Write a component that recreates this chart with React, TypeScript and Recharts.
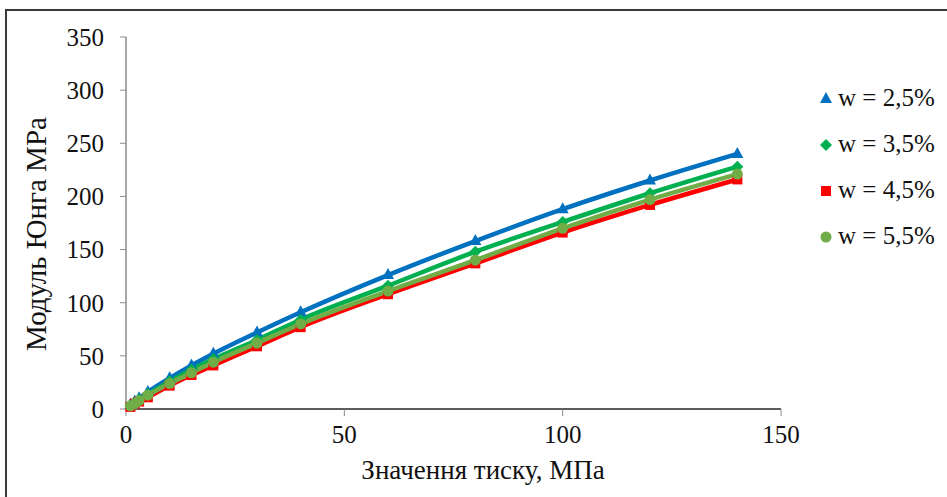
import React from 'react';
import { LineChart, Line, XAxis, YAxis } from 'recharts';

// pressure, MPa
const pressure = [1, 2, 3, 5, 10, 15, 20, 30, 40, 60, 80, 100, 120, 140];

// Young's modulus, MPa, per moisture content
const w25 = [4, 7, 10, 16, 29, 41, 52, 72, 91, 126, 158, 188, 215, 240];
const w35 = [3, 6, 9, 14, 26, 37, 47, 65, 84, 116, 148, 176, 203, 228];
const w45 = [2, 5, 7, 11, 22, 32, 41, 59, 77, 108, 137, 166, 192, 216];
const w55 = [3, 5, 8, 13, 24, 34, 44, 62, 80, 111, 140, 170, 197, 221];

const xTicks = [0, 50, 100, 150];
const yTicks = [0, 50, 100, 150, 200, 250, 300, 350];

const seriesNames = ['w = 2,5%', 'w = 3,5%', 'w = 4,5%', 'w = 5,5%'];

const data = pressure.map((x, i) => ({ x, a: w25[i], b: w35[i], c: w45[i], d: w55[i] }));

const FONT = '"Liberation Serif", "Times New Roman", serif';
const BLUE = '#0070C0';
const GREEN = '#00B050';
const RED = '#FF0000';
const OLIVE = '#70AD47';

const Marker = ({ kind, cx, cy, color }: { kind: string; cx: number; cy: number; color: string }) => {
  if (kind === 'tri')
    return <polygon points={`${cx},${cy - 7} ${cx - 6},${cy + 4} ${cx + 6},${cy + 4}`} fill={color} />;
  if (kind === 'dia')
    return <polygon points={`${cx},${cy - 6} ${cx + 6},${cy} ${cx},${cy + 6} ${cx - 6},${cy}`} fill={color} />;
  if (kind === 'sq') return <rect x={cx - 5} y={cy - 5} width={10} height={10} fill={color} />;
  return <circle cx={cx} cy={cy} r={5.5} fill={color} />;
};

const dotFor = (kind: string, color: string) => (p: any) =>
  <Marker key={`${kind}${p.index}`} kind={kind} cx={p.cx} cy={p.cy} color={color} />;

const legendItems = [
  { name: seriesNames[0], kind: 'tri', color: BLUE },
  { name: seriesNames[1], kind: 'dia', color: GREEN },
  { name: seriesNames[2], kind: 'sq', color: RED },
  { name: seriesNames[3], kind: 'circ', color: OLIVE },
];

const ChartLegend = () => (
  <div style={{ position: 'absolute', left: 818, top: 75, fontFamily: FONT, fontSize: 25, color: '#111' }}>
    {legendItems.map((it) => (
      <div key={it.name} style={{ display: 'flex', alignItems: 'center', height: 46 }}>
        <svg width={16} height={16} style={{ marginRight: 4 }}>
          <Marker kind={it.kind} cx={8} cy={9} color={it.color} />
        </svg>
        <span>{it.name}</span>
      </div>
    ))}
  </div>
);

export default function App() {
  return (
    <div style={{ position: 'absolute', left: 0, top: 0, width: 947, height: 497, overflow: 'hidden', background: '#fff' }}>
      <div style={{ position: 'absolute', left: 5, top: 9, width: 1000, height: 600, border: '2px solid #3a3a3a' }} />
      <div style={{ position: 'absolute', left: 0, top: 0 }}>
        <LineChart width={947} height={497} data={data} margin={{ top: 37, right: 166, bottom: 0, left: 0 }}>
          <XAxis
            type="number"
            dataKey="x"
            domain={[0, 150]}
            ticks={xTicks}
            axisLine={{ stroke: '#262626', strokeWidth: 1.5 }}
            tickLine={{ stroke: '#8a8a8a' }}
            tickSize={7}
            tickMargin={9}
            height={88}
            tick={{ fill: '#111', fontSize: 25, fontFamily: FONT }}
            label={{
              content: () => (
                <text x={483} y={479} textAnchor="middle" fill="#111" fontSize={27} fontFamily={FONT}>
                  Значення тиску, МПа
                </text>
              ),
            }}
          />
          <YAxis
            type="number"
            domain={[0, 350]}
            ticks={yTicks}
            width={126}
            axisLine={{ stroke: '#8a8a8a', strokeWidth: 1.5 }}
            tickLine={{ stroke: '#8a8a8a' }}
            tickSize={6}
            tickMargin={16}
            tick={{ fill: '#111', fontSize: 25, fontFamily: FONT }}
            label={{
              content: () => (
                <text
                  x={46}
                  y={234}
                  transform="rotate(-90 46 234)"
                  textAnchor="middle"
                  fill="#111"
                  fontSize={29}
                  fontFamily={FONT}
                >
                  Модуль Юнга МРа
                </text>
              ),
            }}
          />
          <Line type="monotone" dataKey="a" name={seriesNames[0]} stroke={BLUE} strokeWidth={4.5} dot={dotFor('tri', BLUE)} isAnimationActive={false} />
          <Line type="monotone" dataKey="b" name={seriesNames[1]} stroke={GREEN} strokeWidth={4.5} dot={dotFor('dia', GREEN)} isAnimationActive={false} />
          <Line type="monotone" dataKey="c" name={seriesNames[2]} stroke={RED} strokeWidth={4.5} dot={dotFor('sq', RED)} isAnimationActive={false} />
          <Line type="monotone" dataKey="d" name={seriesNames[3]} stroke={OLIVE} strokeWidth={4.5} dot={dotFor('circ', OLIVE)} isAnimationActive={false} />
        </LineChart>
      </div>
      <ChartLegend />
    </div>
  );
}
